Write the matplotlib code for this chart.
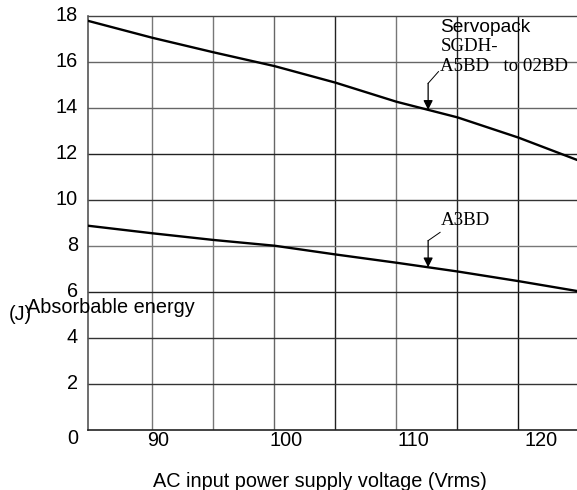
import matplotlib
matplotlib.use("Agg")
from matplotlib import pyplot as plt
from matplotlib.transforms import ScaledTranslation
import numpy as np

# AC input voltage (Vrms) and absorbable energy (J)
voltage = [84.7, 90, 95, 100, 105, 110, 115, 120, 124.8]
energy_a5bd_02bd = [17.78, 17.04, 16.41, 15.81, 15.09, 14.26, 13.58, 12.70, 11.73]
energy_a3bd = [8.87, 8.54, 8.25, 8.00, 7.62, 7.26, 6.88, 6.46, 6.03]

x_ticks = [90, 100, 110, 120]
y_ticks = [0, 2, 4, 6, 8, 10, 12, 14, 16, 18]
x_grid = [90, 95, 100, 105, 110, 115, 120]
y_grid = [2, 4, 6, 8, 10, 12, 14, 16, 18]

# point on each curve where the leader arrow lands
arrow_v = 112.6

SANS = "Liberation Sans"
SERIF = "Liberation Serif"
FS = 14.3

fig = plt.figure(figsize=(5.77, 4.90), dpi=100)
ax = fig.add_axes([87.7 / 577, 1 - 429.7 / 490, 1 - 87.7 / 577, (429.7 - 15.7) / 490])
ax.set_xlim(84.7, 124.8)
ax.set_ylim(0, 18)

xgrid_col = ["#777777", "#777777", "#666666", "#222222", "#777777", "#222222", "#111111"]
for xv, c in zip(x_grid, xgrid_col):
    ax.axvline(xv, color=c, lw=1.0, zorder=1)
ygrid_col = ["#333333", "#333333", "#222222", "#777777", "#333333", "#222222", "#666666", "#666666", "#444444"]
for yv, c in zip(y_grid, ygrid_col):
    ax.axhline(yv, color=c, lw=1.0, zorder=1, clip_on=False)

for s in ["top", "right"]:
    ax.spines[s].set_visible(False)
ax.spines["left"].set_color("#555555")
ax.spines["left"].set_linewidth(1.2)
ax.spines["bottom"].set_color("#222222")
ax.spines["bottom"].set_linewidth(1.2)

ax.plot(voltage, energy_a5bd_02bd, color="black", lw=1.7, zorder=3)
ax.plot(voltage, energy_a3bd, color="black", lw=1.7, zorder=3)

# ticks: labels only, no tick marks
ax.tick_params(length=0, labelsize=FS)
ax.set_xticks(x_ticks)
ax.set_yticks(y_ticks)
ax.set_xticklabels([str(v) for v in x_ticks], fontname=SANS, fontsize=FS)
ax.set_yticklabels([str(v) for v in y_ticks], fontname=SANS, fontsize=FS)
ax.tick_params(axis="x", pad=1)
ax.tick_params(axis="y", pad=7)
for v, lab in zip(x_ticks, ax.get_xticklabels()):
    dx = (6 + 0.55 * (v - 90)) / 100
    lab.set_transform(lab.get_transform() + ScaledTranslation(dx, 0, fig.dpi_scale_trans))
for v, lab in zip(y_ticks, ax.get_yticklabels()):
    dy = -0.07 if v == 0 else 0.025
    lab.set_transform(lab.get_transform() + ScaledTranslation(0, dy, fig.dpi_scale_trans))

fig.text(320 / 577, 1 - 481 / 490, "AC input power supply voltage (Vrms)",
         fontname=SANS, fontsize=FS, ha="center", va="center")
fig.text(27 / 577, 1 - 313 / 490, "Absorbable energy", fontname=SANS, fontsize=FS,
         ha="left", va="baseline")
fig.text(9 / 577, 1 - 320 / 490, "(J)", fontname=SANS, fontsize=FS, ha="left", va="baseline")

# series labels
ax.text(113.6, 17.3, "Servopack", fontname=SANS, fontsize=13.8, va="baseline")
ax.text(113.6, 16.45, "SGDH-", fontname=SERIF, fontsize=13.6, va="baseline")
ax.text(113.6, 15.58, "A5BD   to 02BD", fontname=SERIF, fontsize=13.6, va="baseline")
ax.text(113.65, 8.92, "A3BD", fontname=SERIF, fontsize=13.6, va="baseline")

# leader arrows
tip_hi = np.interp(arrow_v, voltage, energy_a5bd_02bd)
tip_lo = np.interp(arrow_v, voltage, energy_a3bd)
ax.plot([113.45, arrow_v], [15.57, 15.06], color="black", lw=0.7, zorder=4)
ax.annotate("", xy=(arrow_v, tip_hi), xytext=(arrow_v, 15.06),
            arrowprops=dict(arrowstyle="-|>", color="black", lw=0.9,
                            mutation_scale=14, shrinkA=0, shrinkB=0), zorder=4)
ax.plot([113.58, arrow_v], [8.58, 8.22], color="black", lw=0.7, zorder=4)
ax.annotate("", xy=(arrow_v, tip_lo), xytext=(arrow_v, 8.22),
            arrowprops=dict(arrowstyle="-|>", color="black", lw=0.9,
                            mutation_scale=14, shrinkA=0, shrinkB=0), zorder=4)

fig.savefig("out.png", dpi=100)
